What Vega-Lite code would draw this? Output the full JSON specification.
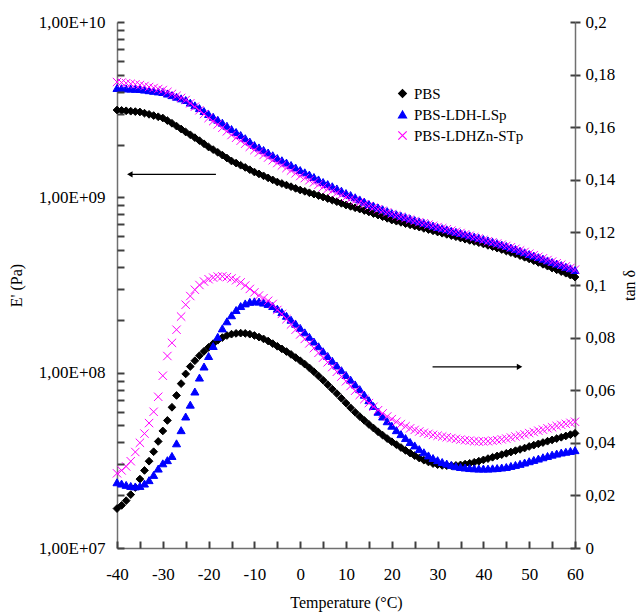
{
"$schema": "https://vega.github.io/schema/vega-lite/v6.json",
"width": 458, "height": 526,
"autosize": {"type": "none"},
"padding": {"left": 117, "top": 22, "right": 69, "bottom": 66},
"background": "white",
"config": {
 "font": "Liberation Serif",
 "view": {"stroke": null},
 "axis": {"labelFont": "Liberation Serif", "titleFont": "Liberation Serif", "labelFontSize": 17, "titleFontSize": 16, "titleFontWeight": "normal", "labelColor": "black", "titleColor": "black", "domainColor": "#707070", "tickColor": "#404040", "domainWidth": 1.5, "tickWidth": 2, "grid": false, "labelFlush": false, "labelOverlap": false},
 "legend": {"labelFont": "Liberation Serif", "labelFontSize": 15, "labelColor": "black"}
},
"data": {"values": [
{"s":"PBS","T":-40,"E":3.148e9,"tan":0.0150},{"s":"PBS","T":-39,"E":3.132e9,"tan":0.0162},{"s":"PBS","T":-38,"E":3.116e9,"tan":0.0180},{"s":"PBS","T":-37,"E":3.099e9,"tan":0.0203},{"s":"PBS","T":-36,"E":3.083e9,"tan":0.0230},{"s":"PBS","T":-35,"E":3.067e9,"tan":0.0262},{"s":"PBS","T":-34,"E":3.020e9,"tan":0.0295},{"s":"PBS","T":-33,"E":2.974e9,"tan":0.0330},{"s":"PBS","T":-32,"E":2.927e9,"tan":0.0366},{"s":"PBS","T":-31,"E":2.881e9,"tan":0.0405},
{"s":"PBS","T":-30,"E":2.834e9,"tan":0.0445},{"s":"PBS","T":-29,"E":2.739e9,"tan":0.0485},{"s":"PBS","T":-28,"E":2.644e9,"tan":0.0535},{"s":"PBS","T":-27,"E":2.548e9,"tan":0.0580},{"s":"PBS","T":-26,"E":2.453e9,"tan":0.0625},{"s":"PBS","T":-25,"E":2.358e9,"tan":0.0662},{"s":"PBS","T":-24,"E":2.274e9,"tan":0.0690},{"s":"PBS","T":-23,"E":2.189e9,"tan":0.0712},{"s":"PBS","T":-22,"E":2.105e9,"tan":0.0731},{"s":"PBS","T":-21,"E":2.020e9,"tan":0.0748},
{"s":"PBS","T":-20,"E":1.936e9,"tan":0.0763},{"s":"PBS","T":-19,"E":1.871e9,"tan":0.0777},{"s":"PBS","T":-18,"E":1.806e9,"tan":0.0790},{"s":"PBS","T":-17,"E":1.741e9,"tan":0.0800},{"s":"PBS","T":-16,"E":1.676e9,"tan":0.0808},{"s":"PBS","T":-15,"E":1.611e9,"tan":0.0813},{"s":"PBS","T":-14,"E":1.568e9,"tan":0.0816},{"s":"PBS","T":-13,"E":1.524e9,"tan":0.0817},{"s":"PBS","T":-12,"E":1.481e9,"tan":0.0816},{"s":"PBS","T":-11,"E":1.437e9,"tan":0.0813},
{"s":"PBS","T":-10,"E":1.394e9,"tan":0.0808},{"s":"PBS","T":-9,"E":1.360e9,"tan":0.0802},{"s":"PBS","T":-8,"E":1.326e9,"tan":0.0795},{"s":"PBS","T":-7,"E":1.291e9,"tan":0.0787},{"s":"PBS","T":-6,"E":1.257e9,"tan":0.0777},{"s":"PBS","T":-5,"E":1.223e9,"tan":0.0767},{"s":"PBS","T":-4,"E":1.199e9,"tan":0.0757},{"s":"PBS","T":-3,"E":1.174e9,"tan":0.0747},{"s":"PBS","T":-2,"E":1.150e9,"tan":0.0736},{"s":"PBS","T":-1,"E":1.125e9,"tan":0.0724},
{"s":"PBS","T":0,"E":1.101e9,"tan":0.0712},{"s":"PBS","T":1,"E":1.082e9,"tan":0.0699},{"s":"PBS","T":2,"E":1.062e9,"tan":0.0685},{"s":"PBS","T":3,"E":1.043e9,"tan":0.0670},{"s":"PBS","T":4,"E":1.023e9,"tan":0.0654},{"s":"PBS","T":5,"E":1.004e9,"tan":0.0638},{"s":"PBS","T":6,"E":9.84e8,"tan":0.0621},{"s":"PBS","T":7,"E":9.64e8,"tan":0.0604},{"s":"PBS","T":8,"E":9.44e8,"tan":0.0587},{"s":"PBS","T":9,"E":9.24e8,"tan":0.0569},
{"s":"PBS","T":10,"E":9.04e8,"tan":0.0551},{"s":"PBS","T":11,"E":8.88e8,"tan":0.0533},{"s":"PBS","T":12,"E":8.72e8,"tan":0.0516},{"s":"PBS","T":13,"E":8.57e8,"tan":0.0500},{"s":"PBS","T":14,"E":8.41e8,"tan":0.0485},{"s":"PBS","T":15,"E":8.25e8,"tan":0.0470},{"s":"PBS","T":16,"E":8.08e8,"tan":0.0456},{"s":"PBS","T":17,"E":7.92e8,"tan":0.0442},{"s":"PBS","T":18,"E":7.75e8,"tan":0.0429},{"s":"PBS","T":19,"E":7.59e8,"tan":0.0416},
{"s":"PBS","T":20,"E":7.42e8,"tan":0.0404},{"s":"PBS","T":21,"E":7.31e8,"tan":0.0393},{"s":"PBS","T":22,"E":7.20e8,"tan":0.0382},{"s":"PBS","T":23,"E":7.08e8,"tan":0.0371},{"s":"PBS","T":24,"E":6.97e8,"tan":0.0361},{"s":"PBS","T":25,"E":6.86e8,"tan":0.0351},{"s":"PBS","T":26,"E":6.76e8,"tan":0.0342},{"s":"PBS","T":27,"E":6.65e8,"tan":0.0334},{"s":"PBS","T":28,"E":6.55e8,"tan":0.0327},{"s":"PBS","T":29,"E":6.44e8,"tan":0.0321},
{"s":"PBS","T":30,"E":6.34e8,"tan":0.0317},{"s":"PBS","T":31,"E":6.24e8,"tan":0.0314},{"s":"PBS","T":32,"E":6.15e8,"tan":0.0313},{"s":"PBS","T":33,"E":6.05e8,"tan":0.0313},{"s":"PBS","T":34,"E":5.96e8,"tan":0.0314},{"s":"PBS","T":35,"E":5.86e8,"tan":0.0316},{"s":"PBS","T":36,"E":5.77e8,"tan":0.0319},{"s":"PBS","T":37,"E":5.68e8,"tan":0.0322},{"s":"PBS","T":38,"E":5.60e8,"tan":0.0326},{"s":"PBS","T":39,"E":5.51e8,"tan":0.0330},
{"s":"PBS","T":40,"E":5.42e8,"tan":0.0335},{"s":"PBS","T":41,"E":5.32e8,"tan":0.0340},{"s":"PBS","T":42,"E":5.23e8,"tan":0.0345},{"s":"PBS","T":43,"E":5.13e8,"tan":0.0350},{"s":"PBS","T":44,"E":5.04e8,"tan":0.0355},{"s":"PBS","T":45,"E":4.94e8,"tan":0.0360},{"s":"PBS","T":46,"E":4.84e8,"tan":0.0365},{"s":"PBS","T":47,"E":4.75e8,"tan":0.0370},{"s":"PBS","T":48,"E":4.65e8,"tan":0.0375},{"s":"PBS","T":49,"E":4.55e8,"tan":0.0380},
{"s":"PBS","T":50,"E":4.45e8,"tan":0.0386},{"s":"PBS","T":51,"E":4.35e8,"tan":0.0391},{"s":"PBS","T":52,"E":4.25e8,"tan":0.0396},{"s":"PBS","T":53,"E":4.15e8,"tan":0.0401},{"s":"PBS","T":54,"E":4.05e8,"tan":0.0406},{"s":"PBS","T":55,"E":3.95e8,"tan":0.0411},{"s":"PBS","T":56,"E":3.86e8,"tan":0.0416},{"s":"PBS","T":57,"E":3.77e8,"tan":0.0421},{"s":"PBS","T":58,"E":3.69e8,"tan":0.0426},{"s":"PBS","T":59,"E":3.60e8,"tan":0.0431},{"s":"PBS","T":60,"E":3.51e8,"tan":0.0436},
{"s":"PBS-LDH-LSp","T":-40,"E":4.203e9,"tan":0.0250},{"s":"PBS-LDH-LSp","T":-39,"E":4.192e9,"tan":0.0245},{"s":"PBS-LDH-LSp","T":-38,"E":4.181e9,"tan":0.0240},{"s":"PBS-LDH-LSp","T":-37,"E":4.170e9,"tan":0.0236},{"s":"PBS-LDH-LSp","T":-36,"E":4.159e9,"tan":0.0234},{"s":"PBS-LDH-LSp","T":-35,"E":4.148e9,"tan":0.0236},{"s":"PBS-LDH-LSp","T":-34,"E":4.116e9,"tan":0.0245},{"s":"PBS-LDH-LSp","T":-33,"E":4.084e9,"tan":0.0258},{"s":"PBS-LDH-LSp","T":-32,"E":4.051e9,"tan":0.0278},{"s":"PBS-LDH-LSp","T":-31,"E":4.019e9,"tan":0.0302},
{"s":"PBS-LDH-LSp","T":-30,"E":3.987e9,"tan":0.0322},{"s":"PBS-LDH-LSp","T":-29,"E":3.907e9,"tan":0.0334},{"s":"PBS-LDH-LSp","T":-28,"E":3.828e9,"tan":0.0350},{"s":"PBS-LDH-LSp","T":-27,"E":3.748e9,"tan":0.0398},{"s":"PBS-LDH-LSp","T":-26,"E":3.669e9,"tan":0.0448},{"s":"PBS-LDH-LSp","T":-25,"E":3.589e9,"tan":0.0500},{"s":"PBS-LDH-LSp","T":-24,"E":3.469e9,"tan":0.0545},{"s":"PBS-LDH-LSp","T":-23,"E":3.348e9,"tan":0.0595},{"s":"PBS-LDH-LSp","T":-22,"E":3.228e9,"tan":0.0648},{"s":"PBS-LDH-LSp","T":-21,"E":3.107e9,"tan":0.0690},
{"s":"PBS-LDH-LSp","T":-20,"E":2.987e9,"tan":0.0730},{"s":"PBS-LDH-LSp","T":-19,"E":2.880e9,"tan":0.0768},{"s":"PBS-LDH-LSp","T":-18,"E":2.773e9,"tan":0.0803},{"s":"PBS-LDH-LSp","T":-17,"E":2.666e9,"tan":0.0835},{"s":"PBS-LDH-LSp","T":-16,"E":2.559e9,"tan":0.0862},{"s":"PBS-LDH-LSp","T":-15,"E":2.452e9,"tan":0.0885},{"s":"PBS-LDH-LSp","T":-14,"E":2.359e9,"tan":0.0905},{"s":"PBS-LDH-LSp","T":-13,"E":2.266e9,"tan":0.0920},{"s":"PBS-LDH-LSp","T":-12,"E":2.174e9,"tan":0.0930},{"s":"PBS-LDH-LSp","T":-11,"E":2.081e9,"tan":0.0936},
{"s":"PBS-LDH-LSp","T":-10,"E":1.988e9,"tan":0.0938},{"s":"PBS-LDH-LSp","T":-9,"E":1.926e9,"tan":0.0937},{"s":"PBS-LDH-LSp","T":-8,"E":1.863e9,"tan":0.0933},{"s":"PBS-LDH-LSp","T":-7,"E":1.801e9,"tan":0.0928},{"s":"PBS-LDH-LSp","T":-6,"E":1.738e9,"tan":0.0920},{"s":"PBS-LDH-LSp","T":-5,"E":1.676e9,"tan":0.0910},{"s":"PBS-LDH-LSp","T":-4,"E":1.627e9,"tan":0.0897},{"s":"PBS-LDH-LSp","T":-3,"E":1.578e9,"tan":0.0883},{"s":"PBS-LDH-LSp","T":-2,"E":1.529e9,"tan":0.0868},{"s":"PBS-LDH-LSp","T":-1,"E":1.480e9,"tan":0.0853},
{"s":"PBS-LDH-LSp","T":0,"E":1.431e9,"tan":0.0837},{"s":"PBS-LDH-LSp","T":1,"E":1.389e9,"tan":0.0820},{"s":"PBS-LDH-LSp","T":2,"E":1.348e9,"tan":0.0803},{"s":"PBS-LDH-LSp","T":3,"E":1.306e9,"tan":0.0785},{"s":"PBS-LDH-LSp","T":4,"E":1.265e9,"tan":0.0767},{"s":"PBS-LDH-LSp","T":5,"E":1.223e9,"tan":0.0748},{"s":"PBS-LDH-LSp","T":6,"E":1.190e9,"tan":0.0730},{"s":"PBS-LDH-LSp","T":7,"E":1.157e9,"tan":0.0712},{"s":"PBS-LDH-LSp","T":8,"E":1.124e9,"tan":0.0694},{"s":"PBS-LDH-LSp","T":9,"E":1.091e9,"tan":0.0676},
{"s":"PBS-LDH-LSp","T":10,"E":1.058e9,"tan":0.0658},{"s":"PBS-LDH-LSp","T":11,"E":1.030e9,"tan":0.0640},{"s":"PBS-LDH-LSp","T":12,"E":1.001e9,"tan":0.0622},{"s":"PBS-LDH-LSp","T":13,"E":9.73e8,"tan":0.0604},{"s":"PBS-LDH-LSp","T":14,"E":9.44e8,"tan":0.0583},{"s":"PBS-LDH-LSp","T":15,"E":9.16e8,"tan":0.0562},{"s":"PBS-LDH-LSp","T":16,"E":8.96e8,"tan":0.0540},{"s":"PBS-LDH-LSp","T":17,"E":8.75e8,"tan":0.0518},{"s":"PBS-LDH-LSp","T":18,"E":8.55e8,"tan":0.0500},{"s":"PBS-LDH-LSp","T":19,"E":8.34e8,"tan":0.0482},
{"s":"PBS-LDH-LSp","T":20,"E":8.14e8,"tan":0.0465},{"s":"PBS-LDH-LSp","T":21,"E":8.00e8,"tan":0.0448},{"s":"PBS-LDH-LSp","T":22,"E":7.85e8,"tan":0.0433},{"s":"PBS-LDH-LSp","T":23,"E":7.71e8,"tan":0.0418},{"s":"PBS-LDH-LSp","T":24,"E":7.56e8,"tan":0.0403},{"s":"PBS-LDH-LSp","T":25,"E":7.42e8,"tan":0.0390},{"s":"PBS-LDH-LSp","T":26,"E":7.29e8,"tan":0.0376},{"s":"PBS-LDH-LSp","T":27,"E":7.16e8,"tan":0.0364},{"s":"PBS-LDH-LSp","T":28,"E":7.03e8,"tan":0.0352},{"s":"PBS-LDH-LSp","T":29,"E":6.90e8,"tan":0.0342},
{"s":"PBS-LDH-LSp","T":30,"E":6.77e8,"tan":0.0334},{"s":"PBS-LDH-LSp","T":31,"E":6.67e8,"tan":0.0327},{"s":"PBS-LDH-LSp","T":32,"E":6.57e8,"tan":0.0321},{"s":"PBS-LDH-LSp","T":33,"E":6.46e8,"tan":0.0316},{"s":"PBS-LDH-LSp","T":34,"E":6.36e8,"tan":0.0311},{"s":"PBS-LDH-LSp","T":35,"E":6.26e8,"tan":0.0308},{"s":"PBS-LDH-LSp","T":36,"E":6.16e8,"tan":0.0306},{"s":"PBS-LDH-LSp","T":37,"E":6.07e8,"tan":0.0304},{"s":"PBS-LDH-LSp","T":38,"E":5.97e8,"tan":0.0303},{"s":"PBS-LDH-LSp","T":39,"E":5.88e8,"tan":0.0302},
{"s":"PBS-LDH-LSp","T":40,"E":5.78e8,"tan":0.0302},{"s":"PBS-LDH-LSp","T":41,"E":5.68e8,"tan":0.0302},{"s":"PBS-LDH-LSp","T":42,"E":5.58e8,"tan":0.0303},{"s":"PBS-LDH-LSp","T":43,"E":5.48e8,"tan":0.0304},{"s":"PBS-LDH-LSp","T":44,"E":5.38e8,"tan":0.0306},{"s":"PBS-LDH-LSp","T":45,"E":5.28e8,"tan":0.0308},{"s":"PBS-LDH-LSp","T":46,"E":5.17e8,"tan":0.0312},{"s":"PBS-LDH-LSp","T":47,"E":5.07e8,"tan":0.0316},{"s":"PBS-LDH-LSp","T":48,"E":4.96e8,"tan":0.0320},{"s":"PBS-LDH-LSp","T":49,"E":4.86e8,"tan":0.0325},
{"s":"PBS-LDH-LSp","T":50,"E":4.75e8,"tan":0.0330},{"s":"PBS-LDH-LSp","T":51,"E":4.66e8,"tan":0.0335},{"s":"PBS-LDH-LSp","T":52,"E":4.56e8,"tan":0.0340},{"s":"PBS-LDH-LSp","T":53,"E":4.47e8,"tan":0.0345},{"s":"PBS-LDH-LSp","T":54,"E":4.37e8,"tan":0.0350},{"s":"PBS-LDH-LSp","T":55,"E":4.28e8,"tan":0.0355},{"s":"PBS-LDH-LSp","T":56,"E":4.19e8,"tan":0.0359},{"s":"PBS-LDH-LSp","T":57,"E":4.11e8,"tan":0.0363},{"s":"PBS-LDH-LSp","T":58,"E":4.02e8,"tan":0.0366},{"s":"PBS-LDH-LSp","T":59,"E":3.94e8,"tan":0.0369},{"s":"PBS-LDH-LSp","T":60,"E":3.85e8,"tan":0.0372},
{"s":"PBS-LDHZn-STp","T":-40,"E":4.547e9,"tan":0.0284},{"s":"PBS-LDHZn-STp","T":-39,"E":4.512e9,"tan":0.0295},{"s":"PBS-LDHZn-STp","T":-38,"E":4.477e9,"tan":0.0310},{"s":"PBS-LDHZn-STp","T":-37,"E":4.441e9,"tan":0.0330},{"s":"PBS-LDHZn-STp","T":-36,"E":4.406e9,"tan":0.0365},{"s":"PBS-LDHZn-STp","T":-35,"E":4.371e9,"tan":0.0400},{"s":"PBS-LDHZn-STp","T":-34,"E":4.315e9,"tan":0.0435},{"s":"PBS-LDHZn-STp","T":-33,"E":4.260e9,"tan":0.0475},{"s":"PBS-LDHZn-STp","T":-32,"E":4.204e9,"tan":0.0518},{"s":"PBS-LDHZn-STp","T":-31,"E":4.149e9,"tan":0.0575},
{"s":"PBS-LDHZn-STp","T":-30,"E":4.093e9,"tan":0.0655},{"s":"PBS-LDHZn-STp","T":-29,"E":3.992e9,"tan":0.0730},{"s":"PBS-LDHZn-STp","T":-28,"E":3.891e9,"tan":0.0780},{"s":"PBS-LDHZn-STp","T":-27,"E":3.791e9,"tan":0.0830},{"s":"PBS-LDHZn-STp","T":-26,"E":3.690e9,"tan":0.0880},{"s":"PBS-LDHZn-STp","T":-25,"E":3.589e9,"tan":0.0925},{"s":"PBS-LDHZn-STp","T":-24,"E":3.438e9,"tan":0.0958},{"s":"PBS-LDHZn-STp","T":-23,"E":3.287e9,"tan":0.0982},{"s":"PBS-LDHZn-STp","T":-22,"E":3.136e9,"tan":0.1000},{"s":"PBS-LDHZn-STp","T":-21,"E":2.985e9,"tan":0.1013},
{"s":"PBS-LDHZn-STp","T":-20,"E":2.834e9,"tan":0.1022},{"s":"PBS-LDHZn-STp","T":-19,"E":2.720e9,"tan":0.1028},{"s":"PBS-LDHZn-STp","T":-18,"E":2.607e9,"tan":0.1032},{"s":"PBS-LDHZn-STp","T":-17,"E":2.493e9,"tan":0.1033},{"s":"PBS-LDHZn-STp","T":-16,"E":2.380e9,"tan":0.1030},{"s":"PBS-LDHZn-STp","T":-15,"E":2.266e9,"tan":0.1025},{"s":"PBS-LDHZn-STp","T":-14,"E":2.185e9,"tan":0.1018},{"s":"PBS-LDHZn-STp","T":-13,"E":2.104e9,"tan":0.1010},{"s":"PBS-LDHZn-STp","T":-12,"E":2.023e9,"tan":0.0998},{"s":"PBS-LDHZn-STp","T":-11,"E":1.942e9,"tan":0.0985},
{"s":"PBS-LDHZn-STp","T":-10,"E":1.861e9,"tan":0.0972},{"s":"PBS-LDHZn-STp","T":-9,"E":1.803e9,"tan":0.0960},{"s":"PBS-LDHZn-STp","T":-8,"E":1.744e9,"tan":0.0950},{"s":"PBS-LDHZn-STp","T":-7,"E":1.686e9,"tan":0.0940},{"s":"PBS-LDHZn-STp","T":-6,"E":1.627e9,"tan":0.0928},{"s":"PBS-LDHZn-STp","T":-5,"E":1.569e9,"tan":0.0905},{"s":"PBS-LDHZn-STp","T":-4,"E":1.520e9,"tan":0.0890},{"s":"PBS-LDHZn-STp","T":-3,"E":1.470e9,"tan":0.0870},{"s":"PBS-LDHZn-STp","T":-2,"E":1.421e9,"tan":0.0850},{"s":"PBS-LDHZn-STp","T":-1,"E":1.371e9,"tan":0.0830},
{"s":"PBS-LDHZn-STp","T":0,"E":1.322e9,"tan":0.0812},{"s":"PBS-LDHZn-STp","T":1,"E":1.287e9,"tan":0.0795},{"s":"PBS-LDHZn-STp","T":2,"E":1.251e9,"tan":0.0778},{"s":"PBS-LDHZn-STp","T":3,"E":1.216e9,"tan":0.0760},{"s":"PBS-LDHZn-STp","T":4,"E":1.180e9,"tan":0.0742},{"s":"PBS-LDHZn-STp","T":5,"E":1.145e9,"tan":0.0724},{"s":"PBS-LDHZn-STp","T":6,"E":1.117e9,"tan":0.0706},{"s":"PBS-LDHZn-STp","T":7,"E":1.089e9,"tan":0.0688},{"s":"PBS-LDHZn-STp","T":8,"E":1.060e9,"tan":0.0670},{"s":"PBS-LDHZn-STp","T":9,"E":1.032e9,"tan":0.0652},
{"s":"PBS-LDHZn-STp","T":10,"E":1.004e9,"tan":0.0634},{"s":"PBS-LDHZn-STp","T":11,"E":9.82e8,"tan":0.0616},{"s":"PBS-LDHZn-STp","T":12,"E":9.59e8,"tan":0.0598},{"s":"PBS-LDHZn-STp","T":13,"E":9.37e8,"tan":0.0582},{"s":"PBS-LDHZn-STp","T":14,"E":9.14e8,"tan":0.0566},{"s":"PBS-LDHZn-STp","T":15,"E":8.92e8,"tan":0.0551},{"s":"PBS-LDHZn-STp","T":16,"E":8.74e8,"tan":0.0537},{"s":"PBS-LDHZn-STp","T":17,"E":8.56e8,"tan":0.0524},{"s":"PBS-LDHZn-STp","T":18,"E":8.39e8,"tan":0.0512},{"s":"PBS-LDHZn-STp","T":19,"E":8.21e8,"tan":0.0500},
{"s":"PBS-LDHZn-STp","T":20,"E":8.03e8,"tan":0.0490},{"s":"PBS-LDHZn-STp","T":21,"E":7.89e8,"tan":0.0480},{"s":"PBS-LDHZn-STp","T":22,"E":7.75e8,"tan":0.0471},{"s":"PBS-LDHZn-STp","T":23,"E":7.61e8,"tan":0.0463},{"s":"PBS-LDHZn-STp","T":24,"E":7.47e8,"tan":0.0455},{"s":"PBS-LDHZn-STp","T":25,"E":7.33e8,"tan":0.0449},{"s":"PBS-LDHZn-STp","T":26,"E":7.22e8,"tan":0.0443},{"s":"PBS-LDHZn-STp","T":27,"E":7.11e8,"tan":0.0438},{"s":"PBS-LDHZn-STp","T":28,"E":6.99e8,"tan":0.0434},{"s":"PBS-LDHZn-STp","T":29,"E":6.88e8,"tan":0.0430},
{"s":"PBS-LDHZn-STp","T":30,"E":6.77e8,"tan":0.0427},{"s":"PBS-LDHZn-STp","T":31,"E":6.67e8,"tan":0.0424},{"s":"PBS-LDHZn-STp","T":32,"E":6.57e8,"tan":0.0421},{"s":"PBS-LDHZn-STp","T":33,"E":6.46e8,"tan":0.0418},{"s":"PBS-LDHZn-STp","T":34,"E":6.36e8,"tan":0.0415},{"s":"PBS-LDHZn-STp","T":35,"E":6.26e8,"tan":0.0412},{"s":"PBS-LDHZn-STp","T":36,"E":6.15e8,"tan":0.0410},{"s":"PBS-LDHZn-STp","T":37,"E":6.04e8,"tan":0.0408},{"s":"PBS-LDHZn-STp","T":38,"E":5.93e8,"tan":0.0406},{"s":"PBS-LDHZn-STp","T":39,"E":5.82e8,"tan":0.0405},
{"s":"PBS-LDHZn-STp","T":40,"E":5.71e8,"tan":0.0405},{"s":"PBS-LDHZn-STp","T":41,"E":5.62e8,"tan":0.0406},{"s":"PBS-LDHZn-STp","T":42,"E":5.54e8,"tan":0.0408},{"s":"PBS-LDHZn-STp","T":43,"E":5.45e8,"tan":0.0410},{"s":"PBS-LDHZn-STp","T":44,"E":5.37e8,"tan":0.0413},{"s":"PBS-LDHZn-STp","T":45,"E":5.28e8,"tan":0.0416},{"s":"PBS-LDHZn-STp","T":46,"E":5.19e8,"tan":0.0420},{"s":"PBS-LDHZn-STp","T":47,"E":5.09e8,"tan":0.0424},{"s":"PBS-LDHZn-STp","T":48,"E":4.98e8,"tan":0.0428},{"s":"PBS-LDHZn-STp","T":49,"E":4.88e8,"tan":0.0432},
{"s":"PBS-LDHZn-STp","T":50,"E":4.77e8,"tan":0.0437},{"s":"PBS-LDHZn-STp","T":51,"E":4.68e8,"tan":0.0441},{"s":"PBS-LDHZn-STp","T":52,"E":4.58e8,"tan":0.0446},{"s":"PBS-LDHZn-STp","T":53,"E":4.49e8,"tan":0.0450},{"s":"PBS-LDHZn-STp","T":54,"E":4.39e8,"tan":0.0455},{"s":"PBS-LDHZn-STp","T":55,"E":4.30e8,"tan":0.0459},{"s":"PBS-LDHZn-STp","T":56,"E":4.21e8,"tan":0.0464},{"s":"PBS-LDHZn-STp","T":57,"E":4.13e8,"tan":0.0468},{"s":"PBS-LDHZn-STp","T":58,"E":4.04e8,"tan":0.0472},{"s":"PBS-LDHZn-STp","T":59,"E":3.96e8,"tan":0.0476},{"s":"PBS-LDHZn-STp","T":60,"E":3.87e8,"tan":0.0480}
]},
"resolve": {"scale": {"y": "independent"}, "axis": {"x": "independent"}},
"layer": [
  {"mark": {"type": "point", "filled": true, "strokeWidth": 1, "opacity": 1},
   "encoding": {
    "x": {"field": "T", "type": "quantitative", "scale": {"domain": [-40, 60], "nice": false, "zero": false},
      "axis": {"orient": "bottom", "title": "Temperature (°C)", "values": [-40,-30,-20,-10,0,10,20,30,40,50,60], "labelExpr": "'' + datum.value", "ticks": false, "labelPadding": 18, "titlePadding": 12}},
    "y": {"field": "E", "type": "quantitative", "scale": {"type": "log", "domain": [1e7, 1e10], "nice": false},
      "axis": {"orient": "left", "title": "E' (Pa)", "values": [1e7, 1e8, 1e9, 1e10], "labelExpr": "'1,00E+' + format(round(log(datum.value)/LN10), '02d')", "ticks": false, "labelPadding": 12, "titlePadding": 14}},
    "shape": {"field": "s", "type": "nominal", "scale": {"domain": ["PBS", "PBS-LDH-LSp", "PBS-LDHZn-STp"], "range": ["diamond", "triangle-up", "M-1,-1L1,1M1,-1L-1,1"]}, "legend": {"title": null, "orient": "none", "legendX": 278, "legendY": 64, "rowPadding": 5, "symbolStrokeWidth": 1.2, "labelOffset": 4}},
    "fill": {"field": "s", "type": "nominal", "scale": {"domain": ["PBS", "PBS-LDH-LSp", "PBS-LDHZn-STp"], "range": ["#000000", "#0000ff", "#ff00ff"]}, "legend": {"title": null, "orient": "none", "legendX": 278, "legendY": 64, "rowPadding": 5, "symbolStrokeWidth": 1.2, "labelOffset": 4}},
    "stroke": {"field": "s", "type": "nominal", "scale": {"domain": ["PBS", "PBS-LDH-LSp", "PBS-LDHZn-STp"], "range": ["#000000", "#0000ff", "#ff00ff"]}, "legend": {"title": null, "orient": "none", "legendX": 278, "legendY": 64, "rowPadding": 5, "symbolStrokeWidth": 1.2, "labelOffset": 4}},
    "size": {"field": "s", "type": "ordinal", "scale": {"domain": ["PBS", "PBS-LDH-LSp", "PBS-LDHZn-STp"], "range": [60, 70, 70]}, "legend": {"title": null, "orient": "none", "legendX": 278, "legendY": 64, "rowPadding": 5, "symbolStrokeWidth": 1.2, "labelOffset": 4}}
   }},
  {"mark": {"type": "point", "filled": true, "strokeWidth": 1, "opacity": 1},
   "encoding": {
    "x": {"field": "T", "type": "quantitative", "scale": {"domain": [-40, 60], "nice": false, "zero": false}, "axis": null},
    "y": {"field": "tan", "type": "quantitative", "scale": {"domain": [0, 0.2], "nice": false},
      "axis": {"orient": "right", "title": "tan δ", "titleAngle": -90, "values": [0,0.02,0.04,0.06,0.08,0.1,0.12,0.14,0.16,0.18,0.2], "labelExpr": "replace(format(datum.value, '.2~f'), '.', ',')", "tickSize": 5, "labelPadding": 5, "titlePadding": 23}},
    "shape": {"field": "s", "type": "nominal", "scale": {"domain": ["PBS", "PBS-LDH-LSp", "PBS-LDHZn-STp"], "range": ["diamond", "triangle-up", "M-1,-1L1,1M1,-1L-1,1"]}},
    "fill": {"field": "s", "type": "nominal", "scale": {"domain": ["PBS", "PBS-LDH-LSp", "PBS-LDHZn-STp"], "range": ["#000000", "#0000ff", "#ff00ff"]}},
    "stroke": {"field": "s", "type": "nominal", "scale": {"domain": ["PBS", "PBS-LDH-LSp", "PBS-LDHZn-STp"], "range": ["#000000", "#0000ff", "#ff00ff"]}},
    "size": {"field": "s", "type": "ordinal", "scale": {"domain": ["PBS", "PBS-LDH-LSp", "PBS-LDHZn-STp"], "range": [60, 70, 70]}}
   }},
  {"data": {"values": [{"T": 0, "tan": 0}]},
   "mark": {"type": "point", "opacity": 0},
   "encoding": {
    "x": {"field": "T", "type": "quantitative", "scale": {"domain": [-40, 60], "nice": false, "zero": false},
      "axis": {"orient": "bottom", "title": null, "labels": false, "domain": false, "ticks": true, "values": [-40,-35,-30,-25,-20,-15,-10,-5,0,5,10,15,20,25,30,35,40,45,50,55,60], "tickSize": 7, "offset": -7, "tickColor": "#404040", "tickWidth": 2, "zindex": 1}},
    "y": {"field": "tan", "type": "quantitative", "scale": {"domain": [0, 0.2], "nice": false},
      "axis": {"orient": "right", "title": null, "labels": false, "domain": false, "ticks": true, "values": [0,0.02,0.04,0.06,0.08,0.1,0.12,0.14,0.16,0.18,0.2], "tickSize": 5, "offset": -5, "tickColor": "#404040", "tickWidth": 2, "zindex": 1}}
   }},
  {"data": {"values": [{"T": 0, "E": 1e8}]},
   "mark": {"type": "point", "opacity": 0},
   "encoding": {
    "x": {"field": "T", "type": "quantitative", "scale": {"domain": [-40, 60], "nice": false, "zero": false}, "axis": null},
    "y": {"field": "E", "type": "quantitative", "scale": {"type": "log", "domain": [1e7, 1e10], "nice": false},
      "axis": {"orient": "left", "title": null, "labels": false, "domain": false, "ticks": true, "values": [1e7,2e7,3e7,4e7,5e7,6e7,7e7,8e7,9e7,1e8,2e8,3e8,4e8,5e8,6e8,7e8,8e8,9e8,1e9,2e9,3e9,4e9,5e9,6e9,7e9,8e9,9e9,1e10], "tickSize": 7, "offset": -7, "tickColor": "#404040", "tickWidth": 2, "zindex": 1}}
   }},
  {"data": {"values": [{"T": -18.4, "T2": -37.4, "E": 1.352e9}]},
   "mark": {"type": "rule", "color": "#000000", "strokeWidth": 1.3},
   "encoding": {
    "x": {"field": "T", "type": "quantitative", "scale": {"domain": [-40, 60], "nice": false, "zero": false}, "axis": null},
    "x2": {"field": "T2"},
    "y": {"field": "E", "type": "quantitative", "scale": {"type": "log", "domain": [1e7, 1e10], "nice": false}, "axis": null}
   }},
  {"data": {"values": [{"T": -37.2, "E": 1.352e9}]},
   "mark": {"type": "point", "shape": "triangle-left", "filled": true, "color": "#000000", "size": 40, "opacity": 1},
   "encoding": {
    "x": {"field": "T", "type": "quantitative", "scale": {"domain": [-40, 60], "nice": false, "zero": false}, "axis": null},
    "y": {"field": "E", "type": "quantitative", "scale": {"type": "log", "domain": [1e7, 1e10], "nice": false}, "axis": null}
   }},
  {"data": {"values": [{"T": 28.9, "T2": 47.8, "tan": 0.0689}]},
   "mark": {"type": "rule", "color": "#000000", "strokeWidth": 1.3},
   "encoding": {
    "x": {"field": "T", "type": "quantitative", "scale": {"domain": [-40, 60], "nice": false, "zero": false}, "axis": null},
    "x2": {"field": "T2"},
    "y": {"field": "tan", "type": "quantitative", "scale": {"domain": [0, 0.2], "nice": false}, "axis": null}
   }},
  {"data": {"values": [{"T": 47.9, "tan": 0.0689}]},
   "mark": {"type": "point", "shape": "triangle-right", "filled": true, "color": "#000000", "size": 40, "opacity": 1},
   "encoding": {
    "x": {"field": "T", "type": "quantitative", "scale": {"domain": [-40, 60], "nice": false, "zero": false}, "axis": null},
    "y": {"field": "tan", "type": "quantitative", "scale": {"domain": [0, 0.2], "nice": false}, "axis": null}
   }}
]
}
